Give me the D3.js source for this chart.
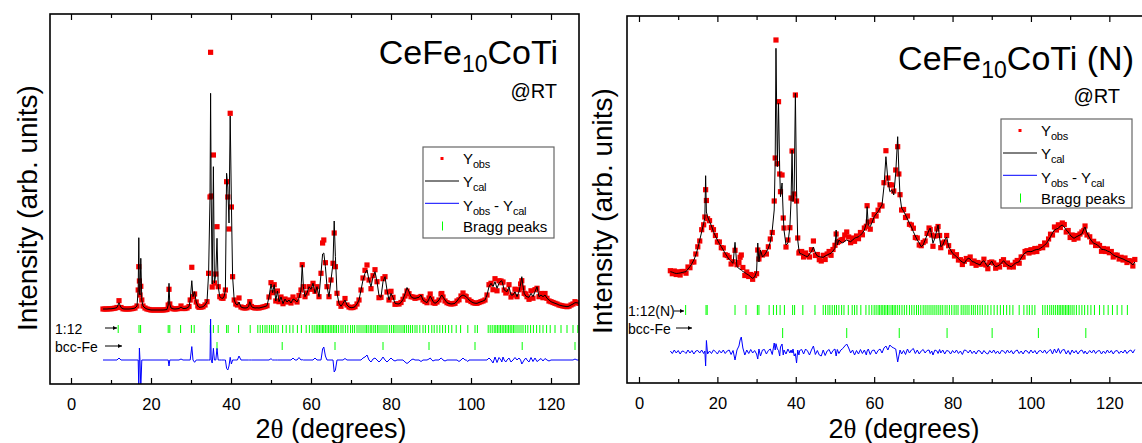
<!DOCTYPE html>
<html>
<head>
<meta charset="utf-8">
<script src="https://cdn.jsdelivr.net/npm/d3@7/dist/d3.min.js"></script>
<style>
body { margin: 0; background: #fff; }
svg text { font-family: "Liberation Sans", Arial, sans-serif; fill: #000; }
</style>
</head>
<body>
<svg id="chart" width="1142" height="443"></svg>
<script>
// ---------- data (intensity in arb. counts) ----------
// left panel: CeFe10CoTi
var leftTheta = [
  8, 8.5, 9, 9.5, 10, 10.5, 11, 11.5, 12, 12.5,
  13, 13.5, 14, 14.5, 15, 15.5, 16, 16.5, 16.8, 16.95,
  17.1, 17.25, 17.45, 17.7, 18, 18.5, 19, 19.5, 20, 20.5,
  21, 21.5, 22, 22.5, 23, 23.5, 24, 24.3, 24.5, 24.7,
  25, 25.5, 26, 26.5, 27, 27.5, 28, 28.5, 29, 29.5,
  29.8, 30.2, 30.5, 30.9, 31.3, 31.7, 32, 32.5, 33, 33.5,
  34, 34.4, 34.75, 34.9, 35.05, 35.3, 35.6, 35.85, 36.2, 36.5,
  36.8, 37.2, 37.6, 38, 38.3, 38.6, 38.9, 39.2, 39.5, 39.8,
  40.1, 40.4, 40.8, 41.2, 41.6, 42, 42.5, 43, 43.5, 44,
  44.4, 44.7, 45.1, 45.5, 46, 46.5, 47, 47.5, 48, 48.5,
  49, 49.5, 50, 50.4, 50.8, 51.2, 51.6, 52, 52.5, 53,
  53.5, 54, 54.5, 55, 55.5, 56, 56.5, 57, 57.5, 57.8,
  58.1, 58.5, 59, 59.5, 60, 60.5, 61, 61.5, 62, 62.5,
  62.9, 63.2, 63.6, 64, 64.5, 65, 65.5, 65.8, 66.1, 66.5,
  67, 67.5, 68, 68.5, 69, 69.5, 70, 70.5, 71, 71.5,
  72, 72.5, 73, 73.5, 74, 74.5, 75, 75.5, 76, 76.5,
  77, 77.5, 78, 78.5, 79, 79.5, 80, 80.5, 81, 81.5,
  82, 82.5, 83, 83.5, 84, 84.5, 85, 85.5, 86, 86.5,
  87, 87.5, 88, 88.5, 89, 89.5, 89.8, 90.2, 90.5, 91,
  91.5, 92, 92.5, 92.7, 93, 93.5, 94, 94.5, 95, 95.5,
  96, 96.5, 97, 97.5, 98, 98.5, 98.8, 99.2, 99.5, 100,
  100.5, 101, 101.5, 102, 102.5, 103, 103.5, 104, 104.5, 105,
  105.5, 106, 106.5, 107, 107.5, 107.7, 108, 108.3, 108.7, 109,
  109.5, 110, 110.5, 111, 111.5, 112, 112.4, 112.7, 113, 113.3,
  113.7, 114, 114.5, 115, 115.5, 116, 116.5, 117, 117.5, 118,
  118.5, 119, 119.5, 120, 120.5, 121, 121.5, 122, 122.5, 123,
  123.5, 124, 124.5, 125, 125.5, 126, 126.5, 127
];
var leftCal = [
  750, 750, 750, 752, 752, 755, 758, 765, 813, 765,
  752, 750, 750, 750, 752, 755, 760, 780, 940, 1463,
  910, 890, 1257, 840, 780, 760, 750, 745, 740, 740,
  740, 740, 740, 740, 740, 742, 745, 790, 1007, 800,
  760, 752, 750, 752, 755, 770, 755, 755, 760, 775,
  840, 1033, 873, 923, 820, 780, 767, 768, 773, 790,
  823, 1107, 1870, 2907, 1880, 1000, 2173, 1010, 1100, 1457,
  973, 873, 860, 857, 880, 940, 2107, 1970, 1610, 2680,
  1810, 1073, 840, 800, 790, 820, 770, 762, 760, 762,
  775, 823, 775, 765, 760, 762, 760, 765, 770, 775,
  783, 870, 1000, 913, 993, 830, 930, 823, 870, 803,
  850, 820, 840, 810, 850, 840, 820, 860, 940, 1190,
  973, 873, 910, 973, 947, 1007, 907, 973, 873, 1107,
  1300, 1310, 1173, 973, 873, 1040, 1207, 1630, 1273, 907,
  807, 777, 807, 840, 790, 770, 763, 765, 773, 800,
  840, 940, 1040, 1107, 1140, 1040, 973, 1073, 1123, 1023,
  883, 867, 1023, 1073, 940, 840, 907, 867, 807, 802,
  800, 815, 847, 900, 965, 923, 873, 860, 857, 862,
  867, 890, 840, 825, 813, 850, 880, 850, 823, 807,
  820, 840, 880, 890, 870, 840, 813, 805, 800, 802,
  807, 830, 857, 880, 890, 880, 873, 855, 840, 825,
  813, 808, 807, 815, 823, 830, 840, 890, 973, 1007,
  973, 1023, 957, 1007, 1030, 1033, 990, 940, 930, 923,
  973, 890, 890, 923, 873, 923, 1000, 1073, 980, 907,
  880, 873, 867, 907, 873, 923, 973, 873, 890, 873,
  890, 857, 840, 823, 815, 807, 800, 790, 785, 780,
  777, 773, 778, 790, 800, 813, 812, 807
];
// Yobs - Ycal
var leftResid = [
  0, 0, 0, 0, 0, 0, 0, 0, 20, 0,
  0, 0, 0, 0, 0, 0, 0, 0, 0, -290,
  120, 0, -280, 0, 0, 0, 0, 0, 0, 0,
  0, 0, 0, 0, 0, 0, 0, 0, -60, 0,
  0, 0, 0, 0, 0, 10, 0, 0, 0, 0,
  0, 134, 0, -23, 0, 0, 0, 0, 0, 0,
  0, 0, 0, 410, 0, -30, 117, 0, 0, 116,
  0, 0, 0, 0, 0, 0, -84, -100, -60, 27,
  -40, 0, 0, 0, 0, 40, 0, 0, 0, 0,
  0, 0, 0, 0, 0, 0, 0, 0, 0, 0,
  0, 0, 13, 0, 0, 0, 0, 0, 0, 0,
  0, 0, 0, 0, 20, 0, 0, 25, 0, 3,
  0, 0, 0, 0, 0, 0, 20, 0, 0, 0,
  110, 130, 40, 0, 0, 0, 0, -120, -100, 0,
  0, 0, 0, 15, 0, 0, 0, 0, 0, 0,
  0, 0, 20, 30, 50, 0, -20, 10, 20, 0,
  -20, 0, 30, 0, -20, 0, 20, 0, -10, 0,
  0, 0, 0, -20, -35, -20, 0, 10, 0, 0,
  0, -15, 0, 0, 0, 10, 20, 0, -10, 0,
  0, 0, 20, 15, 0, -10, 0, 0, 0, 0,
  0, 0, -15, 0, 20, 0, 0, -15, 0, 0,
  0, 0, 0, 0, 0, 0, 0, 0, 20, 0,
  -30, 30, -25, 25, 0, -20, 30, 0, -20, 0,
  20, -20, 0, 25, 0, 20, 0, -40, -20, 0,
  20, 0, -20, 25, -15, 20, -16, 0, 15, -10,
  15, 0, -10, 0, 0, 0, 0, 0, 0, 0,
  0, 0, 0, 0, 0, 10, 0, 0
];
var leftBragg112 = [11.8, 17.0, 17.4, 24.3, 24.7, 27.4, 30.1, 30.8, 34.8, 35.6, 36.8, 38.9, 39.3, 41.9, 44.8,
  46.7, 47.3, 47.9, 48.5, 49.0, 49.6, 50.1, 50.6, 51.2, 51.8, 52.9, 53.8, 54.7, 55.5, 56.6, 57.6, 58.8, 59.6,
  60.3, 60.8, 61.3, 61.7, 62.1, 62.5, 62.9, 63.2, 63.6, 64.0, 64.4, 64.8, 65.2, 65.6, 66.0, 66.4, 66.9, 67.5,
  68.0, 68.6, 69.2, 69.9, 70.4, 70.9, 71.5, 72.0, 72.5, 73.0, 73.5, 73.9, 74.3, 74.8, 75.2, 75.7, 76.1, 76.6,
  77.0, 77.5, 78.0, 78.5, 79.0, 79.6, 80.1, 80.6, 81.0, 81.5, 82.0, 82.5, 83.0, 83.4, 83.9, 84.4, 84.9, 85.4,
  86.0, 86.5, 87.2, 88.0, 88.6, 89.4, 90.2, 90.8, 91.5, 92.2, 92.9, 93.6, 94.4, 95.2, 96.3, 97.4, 99.2, 101.0,
  101.6, 104.3, 104.8, 105.3, 105.8, 106.2, 106.6, 107.0, 107.4, 107.8, 108.2, 108.6, 109.0, 109.4, 109.8,
  110.2, 110.6, 111.0, 111.5, 112.0, 112.5, 113.0, 113.6, 114.2, 114.9, 115.6, 116.4, 117.2, 118.0, 118.9,
  119.8, 121.0, 122.5, 124.0, 125.5, 126.7];
var leftBraggFe = [36.5, 52.8, 66.0, 78.0, 89.5, 101.0, 112.8, 126.0];

// right panel: CeFe10CoTi (N)
var rightTheta = [
  8, 8.5, 9, 9.5, 10, 10.5, 11, 11.5, 12, 12.5,
  13, 13.5, 14, 14.5, 15, 15.5, 16, 16.5, 16.8, 17,
  17.2, 17.5, 18, 18.5, 19, 19.5, 20, 20.5, 21, 21.5,
  22, 22.5, 23, 23.5, 24, 24.5, 25, 25.5, 25.8, 26.1,
  26.5, 27, 27.5, 28, 28.5, 29, 29.5, 30, 30.3, 30.6,
  31, 31.5, 32, 32.5, 33, 33.5, 34, 34.5, 34.75, 34.95,
  35.3, 35.6, 35.9, 36.1, 36.5, 36.8, 37, 37.5, 38, 38.5,
  38.8, 39.05, 39.3, 39.6, 39.9, 40.2, 40.5, 40.8, 41, 41.5,
  42, 42.5, 43, 43.5, 44, 44.5, 45, 45.5, 46, 46.5,
  47, 47.5, 48, 48.5, 49, 49.5, 50, 50.3, 50.6, 51,
  51.5, 52, 52.5, 53, 53.5, 54, 54.5, 55, 55.5, 56,
  56.5, 57, 57.5, 58, 58.2, 58.5, 59, 59.5, 60, 60.5,
  61, 61.5, 62, 62.5, 63, 63.5, 64, 64.5, 65, 65.5,
  66, 66.3, 66.6, 67, 67.5, 68, 68.5, 69, 69.5, 70,
  70.5, 71, 71.5, 72, 72.5, 73, 73.5, 74, 74.3, 74.7,
  75, 75.5, 76, 76.3, 76.7, 77, 77.5, 78, 78.5, 79,
  79.5, 80, 80.5, 81, 81.5, 82, 82.5, 83, 83.5, 84,
  84.5, 85, 85.5, 86, 86.5, 87, 87.5, 88, 88.5, 89,
  89.5, 90, 90.5, 91, 91.5, 92, 92.5, 93, 93.5, 94,
  94.5, 95, 95.5, 96, 96.5, 97, 97.5, 98, 98.5, 99,
  99.5, 100, 100.5, 101, 101.5, 102, 102.5, 103, 103.5, 104,
  104.5, 105, 105.5, 106, 106.5, 107, 107.5, 108, 108.5, 109,
  109.5, 110, 110.5, 111, 111.5, 112, 112.5, 113, 113.5, 113.8,
  114.3, 115, 115.5, 116, 116.5, 117, 117.5, 118, 118.5, 119,
  119.5, 120, 120.5, 121, 121.5, 122, 122.5, 123, 123.5, 124,
  124.5, 125, 125.5, 126, 126.5
];
var rightCal = [
  1113, 1108, 1100, 1095, 1097, 1100, 1105, 1110, 1113, 1140,
  1163, 1195, 1230, 1280, 1347, 1430, 1513, 1597, 1650, 2073,
  1710, 1663, 1613, 1570, 1513, 1470, 1430, 1395, 1363, 1330,
  1297, 1265, 1237, 1215, 1197, 1407, 1163, 1145, 1137, 1130,
  1115, 1105, 1090, 1080, 1060, 1047, 1060, 1113, 1400, 1210,
  1330, 1260, 1280, 1310, 1347, 1410, 1530, 1730, 2230, 3347,
  2163, 2797, 2130, 1863, 2000, 1680, 1530, 1380, 1400, 1563,
  1830, 2330, 1813, 1930, 2897, 1930, 1430, 1330, 1297, 1290,
  1280, 1270, 1263, 1290, 1313, 1360, 1300, 1270, 1263, 1260,
  1257, 1270, 1280, 1290, 1297, 1320, 1347, 1530, 1380, 1430,
  1410, 1400, 1420, 1430, 1420, 1413, 1430, 1447, 1455, 1463,
  1480, 1497, 1530, 1597, 1763, 1580, 1563, 1610, 1663, 1690,
  1713, 1750, 1780, 1963, 2263, 2030, 1913, 1930, 1880, 2100,
  2463, 2130, 1863, 1750, 1720, 1680, 1640, 1597, 1560, 1513,
  1470, 1430, 1400, 1363, 1380, 1430, 1480, 1530, 1550, 1470,
  1397, 1450, 1530, 1580, 1450, 1363, 1380, 1430, 1460, 1363,
  1330, 1297, 1280, 1263, 1245, 1223, 1210, 1197, 1230, 1247,
  1240, 1213, 1210, 1197, 1190, 1180, 1210, 1223, 1190, 1163,
  1190, 1220, 1180, 1163, 1170, 1180, 1200, 1223, 1200, 1180,
  1170, 1163, 1180, 1197, 1205, 1213, 1250, 1280, 1300, 1313,
  1315, 1313, 1320, 1330, 1335, 1337, 1350, 1363, 1380, 1397,
  1430, 1463, 1500, 1530, 1540, 1547, 1570, 1580, 1560, 1530,
  1510, 1480, 1460, 1447, 1460, 1470, 1480, 1490, 1540, 1560,
  1500, 1447, 1420, 1397, 1390, 1380, 1360, 1337, 1335, 1330,
  1320, 1313, 1300, 1280, 1270, 1263, 1255, 1247, 1240, 1230,
  1220, 1213, 1200, 1180, 1210
];
var rightResid = [
  10, -15, 20, -10, 15, -20, 10, 5, -15, 20,
  -10, 15, -20, 10, 15, -10, 20, -15, 10, -140,
  115, -20, 10, -15, 20, 5, -20, 15, -10, 20,
  -15, 10, 20, -25, 15, -80, 20, 60, 120, 150,
  40, -30, 20, -15, 25, -10, 15, -20, -70, 30,
  -40, 20, 25, -20, 15, 30, -25, 90, 20, 83,
  30, 16, -40, 50, 80, -30, 20, -20, 30, -10,
  20, -10, 30, -40, -17, -110, 20, -30, 15, 25,
  -20, 30, 10, -30, 20, 60, -25, 15, -30, -40,
  20, -35, 10, 25, -20, 15, 30, -40, 25, -15,
  20, 35, 60, 80, 40, -10, 20, -30, 15, -20,
  25, -15, 20, -30, 10, 30, -25, 15, 20, -20,
  15, 30, -10, 40, 60, 20, 70, 50, 40, 30,
  -100, -40, 20, -20, 15, -25, 30, -10, 20, 35,
  -15, 20, -20, 10, 25, -10, 15, 20, -15, 10,
  -30, 20, 10, -15, 25, -10, 20, -20, 15, 10,
  -20, 15, -10, 20, -15, 10, -25, 20, 15, -10,
  20, -15, 10, -20, 15, 10, -20, 15, -10, -20,
  15, -10, 20, -15, 10, -20, 15, 10, -15, 20,
  -10, 15, -20, 10, 20, -15, 10, -20, 15, 10,
  -15, 20, -10, 15, -20, 10, 15, -10, 20, -15,
  10, 25, -20, 30, -10, 35, -15, 20, 25, -20,
  15, -25, 20, -10, 15, -20, 10, 20, -15, 10,
  -20, 15, -10, 20, -15, 10, 15, -20, 10, -15,
  20, -10, 15, -20, 10, 15, -15, 10, -10, 20,
  -15, 10, 20, -10, 25
];
var rightBragg112 = [11.9, 17.1, 17.4, 24.5, 27.3, 30.2, 30.6, 33.2, 34.3, 35.1, 36.0, 37.1, 39.2, 39.7, 41.8,
  44.9, 47.0, 47.6, 48.2, 48.7, 49.3, 49.9, 50.4, 51.0, 51.7, 52.3, 53.4, 54.4, 55.0, 55.6, 56.6, 57.9, 58.7,
  59.4, 60.0, 60.5, 61.0, 61.4, 61.8, 62.2, 62.6, 63.0, 63.4, 63.8, 64.3, 64.7, 65.1, 65.5, 66.0, 66.5, 67.1,
  67.7, 68.3, 69.0, 69.6, 70.2, 70.8, 71.3, 71.9, 72.5, 73.0, 73.5, 74.0, 74.5, 75.0, 75.5, 76.0, 76.5, 77.0,
  77.5, 78.1, 78.6, 79.2, 79.8, 80.4, 80.9, 81.4, 82.2, 82.7, 83.2, 83.7, 84.2, 84.8, 85.3, 85.8, 86.4, 87.0,
  87.6, 88.3, 89.0, 89.8, 90.6, 91.4, 92.2, 93.0, 93.8, 94.6, 95.4, 97.0, 98.2, 99.0, 99.6, 100.3, 101.0,
  103.0, 103.6, 104.2, 104.8, 105.3, 105.8, 106.3, 106.8, 107.2, 107.6, 108.0, 108.4, 108.8, 109.2, 109.6,
  110.0, 110.5, 111.0, 111.6, 112.3, 113.0, 113.7, 114.5, 115.3, 116.2, 117.5, 118.6, 119.7, 120.8, 122.0,
  123.2, 124.6];
var rightBraggFe = [36.65, 53.0, 66.4, 78.6, 90.1, 101.9, 114.0];

var majorTicks = [0, 20, 40, 60, 80, 100, 120];
var minorTicks = [10, 30, 50, 70, 90, 110];

// ---------- layout ----------
var svg = d3.select("#chart");

var defs = svg.append("defs");
defs.append("marker")
    .attr("id", "arrow")
    .attr("viewBox", "0 0 10 10")
    .attr("refX", 10).attr("refY", 5)
    .attr("markerWidth", 5).attr("markerHeight", 4)
    .attr("markerUnits", "userSpaceOnUse")
    .attr("orient", "auto")
    .append("path")
    .attr("d", "M0,0L10,5L0,10Z")
    .attr("fill", "#000");

var panels = [
  {
    id: "left", left: 50, right: 579, top: 14, bottom: 384,
    xDomain: [-5.25, 127], yDomain: [0, 3700],
    theta: leftTheta, cal: leftCal, resid: leftResid, diffOffset: 240,
    phases: [
      {pos: leftBragg112, lo: 510, hi: 590, label: "1:12", lx: 55, ly: 334, ax1: 105, ax2: 117, ay: 328},
      {pos: leftBraggFe, lo: 340, hi: 420, label: "bcc-Fe", lx: 55, ly: 352, ax1: 105, ax2: 122, ay: 346}
    ],
    title: "", titleX: 558, titleY: 64, rtX: 557, rtY: 98,
    legX: 423, legY: 147, legW: 131, legH: 91,
    xlabX: 331, xlabY: 438, ylabX: 37, ylabY: 208
  },
  {
    id: "right", left: 627, right: 1145, top: 16, bottom: 383,
    xDomain: [-3.06, 129.1], yDomain: [0, 3670],
    theta: rightTheta, cal: rightCal, resid: rightResid, diffOffset: 310,
    phases: [
      {pos: rightBragg112, lo: 680, hi: 780, label: "1:12(N)", lx: 628, ly: 316, ax1: 674, ax2: 684, ay: 311},
      {pos: rightBraggFe, lo: 450, hi: 550, label: "bcc-Fe", lx: 628, ly: 334, ax1: 676, ax2: 692, ay: 328}
    ],
    title: " (N)", titleX: 1134, titleY: 70, rtX: 1120, rtY: 103,
    legX: 1001, legY: 119, legW: 131, legH: 89,
    xlabX: 904, xlabY: 438, ylabX: 612, ylabY: 211
  }
];

panels.forEach(drawPanel);

function drawPanel(p) {
  var x = d3.scaleLinear().domain(p.xDomain).range([p.left, p.right]);
  var y = d3.scaleLinear().domain(p.yDomain).range([p.bottom, p.top]);

  var g = svg.append("g").attr("class", "panel-" + p.id);

  defs.append("clipPath").attr("id", "clip-" + p.id)
    .append("rect")
    .attr("x", p.left).attr("y", p.top)
    .attr("width", p.right - p.left).attr("height", p.bottom - p.top);

  var plot = g.append("g").attr("clip-path", "url(#clip-" + p.id + ")");

  // bragg peak markers
  p.phases.forEach(function(ph) {
    plot.append("g").selectAll("line")
      .data(ph.pos)
      .enter().append("line")
      .attr("x1", function(d) { return x(d); })
      .attr("x2", function(d) { return x(d); })
      .attr("y1", y(ph.lo))
      .attr("y2", y(ph.hi))
      .attr("stroke", "#00ff00")
      .attr("stroke-width", 1);

    g.append("text")
      .attr("x", ph.lx).attr("y", ph.ly)
      .attr("font-size", 14)
      .text(ph.label);
    g.append("line")
      .attr("x1", ph.ax1).attr("x2", ph.ax2)
      .attr("y1", ph.ay).attr("y2", ph.ay)
      .attr("stroke", "#000").attr("stroke-width", 1)
      .attr("marker-end", "url(#arrow)");
  });

  var pts = p.theta.map(function(t, i) {
    return {t: t, cal: p.cal[i], obs: p.cal[i] + p.resid[i], diff: p.resid[i]};
  });

  // difference curve
  plot.append("path")
    .datum(pts)
    .attr("fill", "none")
    .attr("stroke", "#0000ff")
    .attr("stroke-width", 1)
    .attr("d", d3.line()
      .x(function(d) { return x(d.t); })
      .y(function(d) { return y(p.diffOffset + d.diff); }));

  // observed points
  plot.append("g").selectAll("rect")
    .data(pts)
    .enter().append("rect")
    .attr("x", function(d) { return x(d.t) - 2.6; })
    .attr("y", function(d) { return y(d.obs) - 2.6; })
    .attr("width", 5.2).attr("height", 5.2)
    .attr("fill", "#f50000");

  // calculated profile
  plot.append("path")
    .datum(pts)
    .attr("fill", "none")
    .attr("stroke", "#000")
    .attr("stroke-width", 1)
    .attr("d", d3.line()
      .x(function(d) { return x(d.t); })
      .y(function(d) { return y(d.cal); }));

  // axes, ticks inside the frame
  var bottom = g.append("g").attr("transform", "translate(0," + p.bottom + ")");
  bottom.call(d3.axisBottom(x).tickValues(majorTicks).tickSize(-6).tickPadding(14).tickFormat(d3.format("d")));
  bottom.append("g").call(d3.axisBottom(x).tickValues(minorTicks).tickSize(-4).tickFormat(""));
  var top = g.append("g").attr("transform", "translate(0," + p.top + ")");
  top.call(d3.axisTop(x).tickValues(majorTicks).tickSize(-6).tickFormat(""));
  top.append("g").call(d3.axisTop(x).tickValues(minorTicks).tickSize(-4).tickFormat(""));
  g.selectAll(".domain").remove();
  g.selectAll(".tick line").attr("stroke", "#000").attr("stroke-width", 1.2);
  g.selectAll(".tick text")
    .attr("font-size", 16.5)
    .attr("font-family", "\"Liberation Sans\", Arial, sans-serif")
    .attr("fill", "#000");

  g.append("rect")
    .attr("x", p.left).attr("y", p.top)
    .attr("width", p.right - p.left).attr("height", p.bottom - p.top)
    .attr("fill", "none")
    .attr("stroke", "#000")
    .attr("stroke-width", 1.6);

  // title
  var t = g.append("text")
    .attr("x", p.titleX).attr("y", p.titleY)
    .attr("text-anchor", "end")
    .attr("font-size", 34);
  t.append("tspan").text("CeFe");
  t.append("tspan").attr("font-size", 23).attr("dy", 8).text("10");
  t.append("tspan").attr("dy", -8).text("CoTi" + p.title);

  g.append("text")
    .attr("x", p.rtX).attr("y", p.rtY)
    .attr("text-anchor", "end")
    .attr("font-size", 20)
    .text("@RT");

  // axis labels
  var xl = g.append("text")
    .attr("x", p.xlabX).attr("y", p.xlabY)
    .attr("text-anchor", "middle")
    .attr("font-size", 27);
  xl.append("tspan").text("2");
  xl.append("tspan").attr("font-family", "\"Liberation Serif\", \"Times New Roman\", serif").text("\u03b8");
  xl.append("tspan").text(" (degrees)");

  g.append("text")
    .attr("transform", "translate(" + p.ylabX + "," + p.ylabY + ") rotate(-90)")
    .attr("text-anchor", "middle")
    .attr("font-size", 28)
    .text("Intensity (arb. units)");

  drawLegend(g, p);
}

function drawLegend(g, p) {
  var lg = g.append("g").attr("transform", "translate(" + p.legX + "," + p.legY + ")");
  lg.append("rect")
    .attr("width", p.legW).attr("height", p.legH)
    .attr("fill", "#fff")
    .attr("stroke", "#666")
    .attr("stroke-width", 1.2);

  var tx = 40;
  var rows = [
    {kind: "dot", my: 11.5, ty: 16.5, parts: [["Y", 0], ["obs", 1]]},
    {kind: "line", color: "#000", my: 34, ty: 39.7, parts: [["Y", 0], ["cal", 1]]},
    {kind: "line", color: "#0000ff", my: 56.3, ty: 64.3, parts: [["Y", 0], ["obs", 1], [" - Y", 0], ["cal", 1]]},
    {kind: "tick", my: 79, ty: 84.5, parts: [["Bragg peaks", 0]]}
  ];

  rows.forEach(function(r) {
    if (r.kind === "dot") {
      lg.append("rect").attr("x", 17.5).attr("y", r.my - 1.5).attr("width", 3).attr("height", 3).attr("fill", "#ff0000");
    } else if (r.kind === "line") {
      lg.append("line").attr("x1", 2).attr("x2", 36).attr("y1", r.my).attr("y2", r.my)
        .attr("stroke", r.color).attr("stroke-width", 1);
    } else {
      lg.append("line").attr("x1", 19.5).attr("x2", 19.5).attr("y1", r.my - 4.5).attr("y2", r.my + 4.5)
        .attr("stroke", "#00ff00").attr("stroke-width", 1);
    }
    var txt = lg.append("text").attr("x", tx).attr("y", r.ty).attr("font-size", 15);
    var sub = 0;
    r.parts.forEach(function(pt) {
      var s = txt.append("tspan").text(pt[0]);
      if (pt[1] && !sub) { s.attr("dy", 4).attr("font-size", 11).attr("letter-spacing", -0.3); sub = 1; }
      else if (!pt[1] && sub) { s.attr("dy", -4); sub = 0; }
    });
  });
}
</script>
</body>
</html>
